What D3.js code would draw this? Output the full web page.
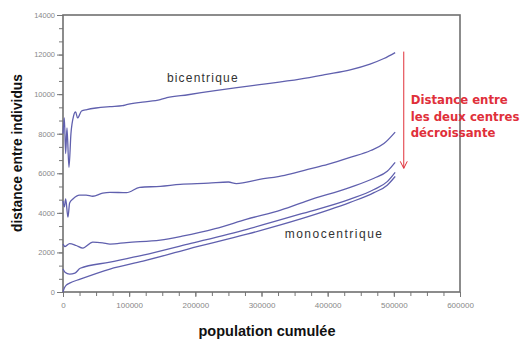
<!DOCTYPE html>
<html>
<head>
<meta charset="utf-8">
<script src="https://cdn.jsdelivr.net/npm/d3@7"></script>
<style>
  body { margin: 0; background: #fff; }
  svg { display: block; }
</style>
</head>
<body>
<div id="chart"></div>
<script>
// population cumulée -> distance entre individus, one array per curve
var serieBicentrique = [[0,8000],[2000,8800],[4000,7000],[6000,8300],[9000,6300],[12000,8000],[16000,8900],[19000,9100],[22000,8800],[28000,9150],[36000,9220],[50000,9300],[71000,9370],[90000,9420],[96000,9470],[120000,9600],[147000,9720],[157000,9820],[189000,9970],[230000,10180],[260000,10320],[297000,10480],[358000,10760],[398000,11000],[434000,11230],[464000,11520],[485000,11800],[502000,12100]];
var serieDistance2 = [[0,4600],[2000,4300],[4000,4700],[7500,3780],[10000,4500],[15000,4700],[25000,4900],[35000,4900],[45000,4840],[60000,5000],[71000,5040],[96000,5020],[116000,5290],[147000,5340],[177000,5440],[220000,5500],[250000,5560],[262000,5480],[297000,5690],[335000,5900],[370000,6200],[400000,6450],[434000,6800],[465000,7150],[485000,7500],[502000,8080]];
var serieDistance3 = [[0,2420],[3000,2300],[10000,2450],[20000,2350],[30000,2220],[45000,2520],[60000,2480],[71000,2420],[96000,2500],[147000,2620],[180000,2820],[230000,3200],[278000,3680],[330000,4150],[370000,4620],[434000,5290],[470000,5750],[490000,6100],[502000,6550]];
var serieMono1 = [[0,1160],[3000,1000],[10000,900],[18000,950],[26000,1200],[71000,1510],[121000,1860],[189000,2420],[278000,3170],[358000,3930],[434000,4690],[470000,5180],[490000,5580],[502000,6050]];
var serieMono2 = [[0,0],[2000,200],[5000,350],[10000,450],[26000,650],[71000,1160],[121000,1560],[189000,2170],[278000,2920],[358000,3680],[434000,4530],[470000,5020],[490000,5400],[502000,5840]];
var toutesSeries = [serieBicentrique, serieDistance2, serieDistance3, serieMono1, serieMono2];

var xTicks = [0, 100000, 200000, 300000, 400000, 500000, 600000];
var yTicks = [0, 2000, 4000, 6000, 8000, 10000, 12000, 14000];
var annotation = ["Distance entre", "les deux centres", "décroissante"];

var margin = {top: 15, right: 61, bottom: 48, left: 63},
    width = 521 - margin.left - margin.right,
    height = 340 - margin.top - margin.bottom;

var svg = d3.select("#chart").append("svg")
    .attr("width", 521)
    .attr("height", 340);

var g = svg.append("g")
    .attr("transform", "translate(" + margin.left + "," + margin.top + ")");

var x = d3.scaleLinear().domain([0, 600000]).range([0, width]);
var y = d3.scaleLinear().domain([0, 14000]).range([height, 0]);

// minor ticks (x every 25000, y every 2000/3)
var xMinor = d3.range(0, 600001, 25000);
var yMinor = d3.range(0, 14001, 2000 / 3);

g.append("g")
    .attr("transform", "translate(0," + height + ")")
    .call(d3.axisBottom(x).tickValues(xMinor).tickSize(4).tickFormat(""))
    .call(a => a.select(".domain").remove())
    .selectAll("line").attr("stroke", "#777");

g.append("g")
    .call(d3.axisLeft(y).tickValues(yMinor).tickSize(4).tickFormat(""))
    .call(a => a.select(".domain").remove())
    .selectAll("line").attr("stroke", "#777");

var xAxis = g.append("g")
    .attr("transform", "translate(0," + height + ")")
    .call(d3.axisBottom(x).tickValues(xTicks).tickSize(5).tickPadding(5).tickFormat(d3.format("d")));
xAxis.select(".domain").remove();
xAxis.selectAll("line").attr("stroke", "#777");
xAxis.selectAll("text").attr("fill", "#888").style("font-size", "8px").style("font-family", "Liberation Sans, Arial");

var yAxis = g.append("g")
    .call(d3.axisLeft(y).tickValues(yTicks).tickSize(6).tickPadding(2).tickFormat(d3.format("d")));
yAxis.select(".domain").remove();
yAxis.selectAll("line").attr("stroke", "#777");
yAxis.selectAll("text").attr("fill", "#888").style("font-size", "7.5px").style("font-family", "Liberation Sans, Arial");

// frame
g.append("rect")
    .attr("x", 0).attr("y", 0)
    .attr("width", width).attr("height", height)
    .attr("fill", "none")
    .attr("stroke", "#707070")
    .attr("stroke-width", 1.6);

var line = d3.line()
    .curve(d3.curveMonotoneX)
    .x(d => x(d[0]))
    .y(d => y(d[1]));

g.selectAll(".courbe")
    .data(toutesSeries)
    .enter().append("path")
    .attr("class", "courbe")
    .attr("d", line)
    .attr("fill", "none")
    .attr("stroke", "#6060ae")
    .attr("stroke-width", 1.3)
    .attr("stroke-linejoin", "round");

// labels
g.append("text")
    .attr("x", x(157000)).attr("y", y(10600))
    .attr("fill", "#333")
    .style("font-family", "Liberation Sans, Arial")
    .style("font-size", "12px")
    .style("letter-spacing", "1.2px")
    .text("bicentrique");

g.append("text")
    .attr("x", x(335000)).attr("y", y(2750))
    .attr("fill", "#333")
    .style("font-family", "Liberation Sans, Arial")
    .style("font-size", "12px")
    .style("letter-spacing", "1.5px")
    .text("monocentrique");

// red arrow
var ax = x(515000);
g.append("line")
    .attr("x1", ax).attr("x2", ax)
    .attr("y1", y(12150)).attr("y2", y(6250))
    .attr("stroke", "#e0303a").attr("stroke-width", 1);
g.append("path")
    .attr("d", "M" + (ax - 3.5) + "," + (y(6250) - 7) + "L" + ax + "," + y(6250) + "L" + (ax + 3.5) + "," + (y(6250) - 7))
    .attr("fill", "none").attr("stroke", "#e0303a").attr("stroke-width", 1);

g.append("g").selectAll("text")
    .data(annotation)
    .enter().append("text")
    .attr("x", ax + 7)
    .attr("y", (d, i) => y(9500) + i * 16.5)
    .attr("fill", "#e0303a")
    .style("font-family", "DejaVu Sans, Verdana")
    .style("font-weight", "bold")
    .style("font-size", "11.7px")
    .text(d => d);

// axis titles
svg.append("text")
    .attr("transform", "translate(22," + (margin.top + 138) + ") rotate(-90)")
    .attr("text-anchor", "middle")
    .attr("fill", "#111")
    .style("font-family", "Liberation Sans, Arial")
    .style("font-weight", "bold")
    .style("font-size", "13.8px")
    .text("distance entre individus");

svg.append("text")
    .attr("x", 267).attr("y", 336)
    .attr("text-anchor", "middle")
    .attr("fill", "#111")
    .style("font-family", "Liberation Sans, Arial")
    .style("font-weight", "bold")
    .style("font-size", "14.5px")
    .text("population cumulée");
</script>
</body>
</html>
